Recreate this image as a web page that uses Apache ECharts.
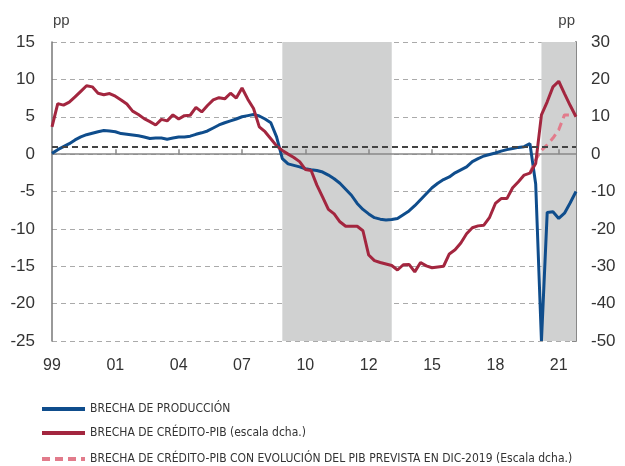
<!DOCTYPE html>
<html>
<head>
<meta charset="utf-8">
<script src="https://cdn.jsdelivr.net/npm/echarts@6/dist/echarts.min.js"></script>
<style>html,body{margin:0;padding:0;background:#fff;}#c{width:625px;height:466px;}</style>
</head>
<body>
<div id="c"></div>
<script>
// Quarterly categories 1999Q1 .. 2021Q4
const startYear = 1999, endYear = 2021;
const quarters = [];
for (let y = startYear; y <= endYear; y++) for (let q = 1; q <= 4; q++) quarters.push(y + 'Q' + q);

const seriesNames = [
  'BRECHA DE PRODUCCIÓN',
  'BRECHA DE CRÉDITO-PIB (escala dcha.)',
  'BRECHA DE CRÉDITO-PIB CON EVOLUCIÓN DEL PIB PREVISTA EN DIC-2019 (Escala dcha.)'
];

// Output gap (left axis, pp)
const outputGap = [
  0.1, 0.6, 1.0, 1.4, 1.9, 2.3, 2.6, 2.8, 3.0, 3.15,
  3.1, 3.0, 2.75, 2.65, 2.55, 2.45, 2.3, 2.1, 2.15, 2.15,
  2.0, 2.15, 2.3, 2.3, 2.4, 2.65, 2.85, 3.1, 3.5, 3.9,
  4.2, 4.45, 4.7, 5.0, 5.15, 5.3, 5.1, 4.7, 4.2, 2.3,
  -0.6, -1.3, -1.5, -1.7, -1.95, -2.1, -2.2, -2.4, -2.8, -3.3,
  -3.9, -4.7, -5.5, -6.6, -7.4, -8.0, -8.5, -8.7, -8.8, -8.75,
  -8.6, -8.1, -7.6, -6.9, -6.1, -5.3, -4.5, -3.9, -3.4, -3.05,
  -2.5, -2.1, -1.7, -1.0, -0.6, -0.25, -0.05, 0.15, 0.4, 0.6,
  0.75, 0.9, 1.0, 1.4, -4.0, -25.0, -7.8, -7.7, -8.6, -7.9,
  -6.5, -5.0
];

// Credit-to-GDP gap (right axis, pp)
const creditGap = [
  7.3, 13.5, 13.1, 13.9, 15.3, 16.8, 18.3, 18.0, 16.3, 15.9,
  16.2, 15.5, 14.5, 13.4, 11.5, 10.6, 9.5, 8.7, 7.8, 9.3,
  8.9, 10.5, 9.4, 10.3, 10.4, 12.5, 11.3, 13.0, 14.5, 15.1,
  14.8, 16.3, 15.0, 17.7, 14.7, 12.2, 7.3, 6.0, 4.1, 2.2,
  1.0, 0.0, -0.9, -2.0, -4.1, -4.4, -8.3, -11.5, -14.8, -16.0,
  -18.1, -19.3, -19.3, -19.3, -20.5, -27.0, -28.5, -29.0, -29.4, -29.8,
  -31.0, -29.6, -29.5, -31.5, -29.0, -29.9, -30.4, -30.2, -30.0, -26.7,
  -25.6, -23.8, -21.3, -19.7, -19.2, -19.0, -16.9, -13.2, -11.9, -11.9,
  -9.0, -7.4, -5.6, -5.1, -2.5, 10.5, 14.0, 18.0, 19.5, 16.2,
  13.0, 10.0
];

// Credit gap with GDP as forecast in Dec-2019 (right axis), from 2019Q4
const creditGapForecast = [
  null, null, null, null, null, null, null, null, null, null,
  null, null, null, null, null, null, null, null, null, null,
  null, null, null, null, null, null, null, null, null, null,
  null, null, null, null, null, null, null, null, null, null,
  null, null, null, null, null, null, null, null, null, null,
  null, null, null, null, null, null, null, null, null, null,
  null, null, null, null, null, null, null, null, null, null,
  null, null, null, null, null, null, null, null, null, null,
  null, null, null, -5.1, -1.5, 1.0, 2.5, 4.3, 6.5, 10.5,
  10.5, 10.5
];

const recessions = [['2009Q1', '2013Q4'], ['2020Q2', '2021Q4']];
const threshold = 2; // right-axis pp
const leftTicks = { min: -25, max: 15, interval: 5 };
const rightTicks = { min: -50, max: 30, interval: 10 };

const blue = '#0f4d8c', red = '#a3263f', pink = '#e27b8b';
const numFont = "'Liberation Sans', Arial, sans-serif";
const narrowFont = "'DejaVu Sans Condensed', 'DejaVu Sans', sans-serif";
const legendTops = [403, 427, 453];

const chart = echarts.init(document.getElementById('c'), null, { renderer: 'canvas' });
chart.setOption({
  animation: false,
  backgroundColor: '#fff',
  grid: { left: 52, right: 49, top: 42, bottom: 125, containLabel: false },
  graphic: [
    { type: 'text', left: 53, top: 13, style: { text: 'pp', font: '15px ' + numFont, fill: '#444' } },
    { type: 'text', right: 50, top: 13, style: { text: 'pp', font: '15px ' + numFont, fill: '#444' } }
  ],
  legend: seriesNames.map((n, i) => ({
    orient: 'horizontal', left: 40, top: legendTops[i], padding: 0,
    itemWidth: 43, itemHeight: 14, itemGap: 6,
    data: [n], selectedMode: false,
    itemStyle: { opacity: 0 },
    lineStyle: { width: 4 },
    textStyle: { fontFamily: narrowFont, fontWeight: 'condensed', fontSize: 12, color: '#333' }
  })),
  xAxis: [
    {
      type: 'category', data: quarters, boundaryGap: false, z: 2,
      axisLine: { show: true, onZero: true, lineStyle: { color: '#888', width: 1.5 } },
      axisTick: { show: true, inside: true, length: 5, interval: 10, lineStyle: { color: '#888', width: 1.5 } },
      axisLabel: { show: false },
      splitLine: { show: false }
    },
    {
      type: 'category', data: quarters, boundaryGap: false, position: 'bottom',
      axisLine: { show: false, onZero: false },
      axisTick: { show: false },
      axisLabel: {
        show: true, interval: 10, margin: 17, color: '#333', fontSize: 16, fontFamily: numFont,
        formatter: v => v.slice(2, 4)
      },
      splitLine: { show: false }
    }
  ],
  yAxis: [
    {
      type: 'value', min: leftTicks.min, max: leftTicks.max, interval: leftTicks.interval, z: 0,
      axisLine: { show: true, lineStyle: { color: '#777', width: 1.5 } },
      axisTick: { show: false },
      axisLabel: { color: '#333', fontSize: 17, fontFamily: numFont, margin: 17 },
      splitLine: { show: true, lineStyle: { color: '#aaa', type: [5, 4], width: 1 } }
    },
    {
      type: 'value', min: rightTicks.min, max: rightTicks.max, interval: rightTicks.interval, z: 0,
      axisLine: { show: true, lineStyle: { color: '#888', width: 2 } },
      axisTick: { show: true, inside: true, length: 4, lineStyle: { color: '#888' } },
      axisLabel: { color: '#333', fontSize: 17, fontFamily: numFont, margin: 15 },
      splitLine: { show: false }
    }
  ],
  series: [
    {
      name: 'shade', type: 'line', data: outputGap, symbol: 'none', silent: true, z: 1,
      lineStyle: { opacity: 0 }, legendHoverLink: false,
      markArea: {
        silent: true, itemStyle: { color: '#d0d1d1' },
        data: recessions.map(r => [{ xAxis: r[0] }, { xAxis: r[1] }])
      }
    },
    {
      name: seriesNames[0], type: 'line', data: outputGap, yAxisIndex: 0, symbol: 'none', z: 3,
      lineStyle: { color: blue, width: 3 }, itemStyle: { color: blue }
    },
    {
      name: seriesNames[1], type: 'line', data: creditGap, yAxisIndex: 1, symbol: 'none', z: 4,
      lineStyle: { color: red, width: 3 }, itemStyle: { color: red },
      markLine: {
        silent: true, symbol: 'none', label: { show: false },
        lineStyle: { color: '#444', type: [6, 4], width: 2 },
        data: [{ yAxis: threshold }]
      }
    },
    {
      name: seriesNames[2], type: 'line', data: creditGapForecast, yAxisIndex: 1, symbol: 'none', z: 3,
      lineStyle: { color: pink, width: 3, type: [8, 5] }, itemStyle: { color: pink }
    }
  ]
});
</script>
</body>
</html>
